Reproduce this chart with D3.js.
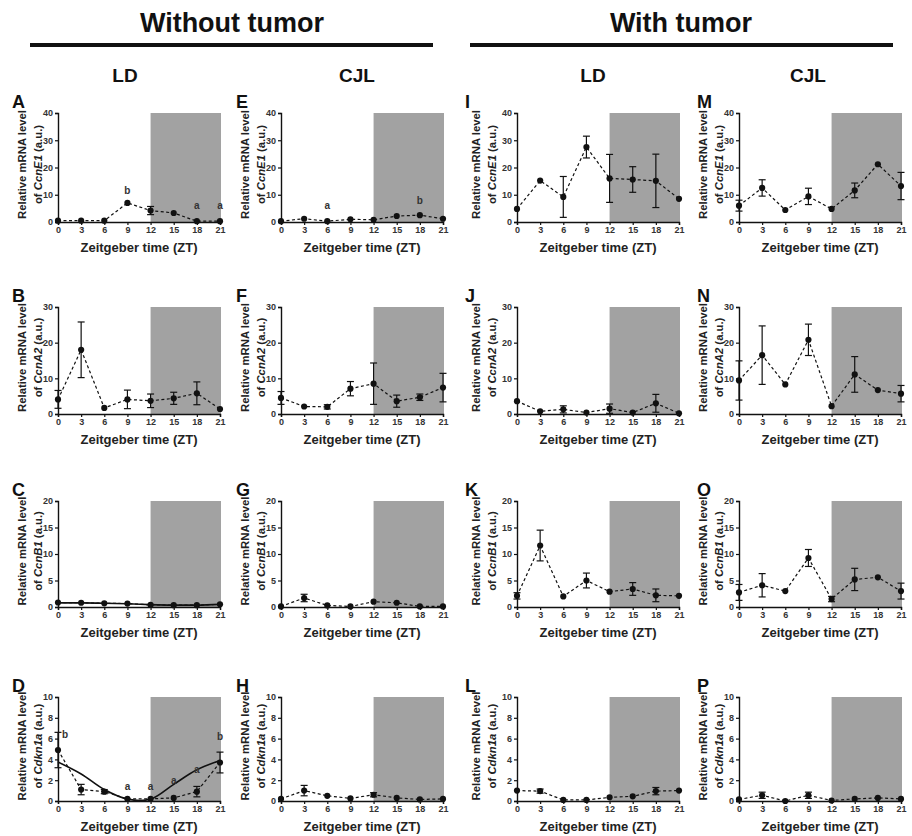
<!DOCTYPE html>
<html><head><meta charset="utf-8">
<script src="https://cdn.jsdelivr.net/npm/d3@7"></script>
<style>
html,body{margin:0;padding:0;background:#fff;}
text{font-family:"Liberation Sans",Arial,sans-serif;}
</style></head>
<body><svg id="c" width="912" height="836"></svg>
<script>
// ---------- data ----------
const ztTicks = [0,3,6,9,12,15,18,21];
const genes = ["CcnE1","CcnA2","CcnB1","Cdkn1a"];
const rowMax = [40,30,20,10];
const rowTicks = [[0,10,20,30,40],[0,10,20,30],[0,5,10,15,20],[0,2,4,6,8,10]];
const groupTitles = ["Without tumor","With tumor"];
const colTitles = ["LD","CJL","LD","CJL"];
const panelLetters = [["A","B","C","D"],["E","F","G","H"],["I","J","K","L"],["M","N","O","P"]];

const meanA = [0.5,0.5,0.5,7.0,4.2,3.3,0.3,0.3];   const errA = [0.2,0.2,0.2,0.4,1.5,0.5,0.1,0.1];
const meanB = [4.1,18,1.7,4.1,3.7,4.4,5.8,1.4];    const errB = [2.5,7.8,0.5,2.6,1.9,1.7,3.2,0.2];
const meanC = [0.85,0.8,0.7,0.65,0.4,0.35,0.35,0.5]; const errC = [0.1,0.1,0.1,0.1,0.1,0.1,0.1,0.1];
const meanD = [4.9,1.1,0.9,0.2,0.2,0.3,0.9,3.7];   const errD = [1.7,0.5,0.2,0.1,0.1,0.1,0.5,1.0];
const meanE = [0.3,1.2,0.3,1.0,0.8,2.2,2.5,1.2];   const errE = [0.1,0.3,0.1,0.2,0.2,0.4,0.3,0.2];
const meanF = [4.5,2.1,2.0,7.1,8.5,3.6,4.7,7.4];   const errF = [1.8,0.5,0.6,2.0,5.8,1.7,0.9,4.0];
const meanG = [0.1,1.7,0.3,0.1,1.0,0.8,0.1,0.1];   const errG = [0.05,0.7,0.1,0.05,0.2,0.3,0.05,0.05];
const meanH = [0.2,1.0,0.5,0.25,0.6,0.3,0.15,0.2]; const errH = [0.05,0.5,0.1,0.05,0.2,0.1,0.05,0.05];
const meanI = [4.8,15.2,9.2,27.5,16,15.6,15.1,8.5]; const errI = [0.5,0.5,7.5,4,8.8,4.7,9.8,0.5];
const meanJ = [3.6,0.75,1.3,0.4,1.5,0.4,3.0,0.2];  const errJ = [0.2,0.5,1.0,0.1,1.3,0.1,2.5,0.1];
const meanK = [2.1,11.6,2.0,5.0,2.9,3.4,2.2,2.1];  const errK = [0.6,2.9,0.1,1.4,0.1,1.2,1.2,0.1];
const meanL = [1.0,0.95,0.1,0.1,0.35,0.45,0.95,1.0]; const errL = [0.05,0.2,0.05,0.05,0.05,0.05,0.35,0.05];
const meanM = [6.0,12.5,4.4,9.4,4.8,11.6,21.2,13.2]; const errM = [2.0,3.0,0.3,3.0,0.3,2.7,0.3,5.0];
const meanN = [9.4,16.5,8.3,20.8,2.2,11.1,6.7,5.7]; const errN = [5.5,8.2,0.3,4.4,0.3,5.0,0.3,2.3];
const meanO = [2.75,4.1,3.0,9.25,1.5,5.2,5.6,3.0]; const errO = [1.5,2.2,0.1,1.6,0.5,2.1,0.1,1.5];
const meanP = [0.15,0.55,0.0,0.55,0.05,0.2,0.3,0.2]; const errP = [0.05,0.3,0.02,0.3,0.02,0.05,0.05,0.05];

// fitted curves
const fitC = [0.78,0.77,0.7,0.6,0.45,0.36,0.36,0.5];
const fitD = [3.75,2.6,1.1,0.18,0.18,1.6,3.0,3.9];

// significance letters
const lettersA_zt = [9,18,21];    const lettersA_val = [10.3,4.8,4.8]; const lettersA_txt = ["b","a","a"];
const lettersE_zt = [6,18];       const lettersE_val = [4.8,6.6];      const lettersE_txt = ["a","b"];
const lettersD_zt = [0.9,9,12,15,18,21]; const lettersD_val = [6.1,1.1,1.1,1.6,2.7,5.9]; const lettersD_txt = ["b","a","a","a","a","b"];

const means = [[meanA,meanB,meanC,meanD],[meanE,meanF,meanG,meanH],[meanI,meanJ,meanK,meanL],[meanM,meanN,meanO,meanP]];
const errs  = [[errA,errB,errC,errD],[errE,errF,errG,errH],[errI,errJ,errK,errL],[errM,errN,errO,errP]];
const fits = {"0,2":fitC,"0,3":fitD};
const letters = {
  "0,0":[lettersA_zt,lettersA_val,lettersA_txt],
  "1,0":[lettersE_zt,lettersE_val,lettersE_txt],
  "0,3":[lettersD_zt,lettersD_val,lettersD_txt]
};

// ---------- layout ----------
const colX = [58,281,517,739];
const rowY = [113,307,501,697];
const rowH = [109,107,106,104];
const pw = 162;

const svg = d3.select("#c");

// headers
const hdr = [{t:groupTitles[0],cx:232,x1:30,x2:433},{t:groupTitles[1],cx:681,x1:470,x2:893}];
hdr.forEach(h=>{
  svg.append("text").attr("x",h.cx).attr("y",32).attr("text-anchor","middle")
    .attr("font-size",27).attr("font-weight","bold").attr("fill","#111").text(h.t);
  svg.append("line").attr("x1",h.x1).attr("x2",h.x2).attr("y1",45).attr("y2",45)
    .attr("stroke","#111").attr("stroke-width",4);
});
colTitles.forEach((t,i)=>{
  svg.append("text").attr("x",[125,357,593,808][i]).attr("y",82).attr("text-anchor","middle")
    .attr("font-size",19).attr("font-weight","bold").attr("fill","#111").text(t);
});

const x = d3.scaleLinear().domain([0,21]).range([0,pw]);

for(let c=0;c<4;c++){
  for(let r=0;r<4;r++){
    const ph = rowH[r];
    const g = svg.append("g").attr("transform",`translate(${colX[c]},${rowY[r]})`);
    const y = d3.scaleLinear().domain([0,rowMax[r]]).range([ph,0]);
    const m = means[c][r], e = errs[c][r];

    // dark phase box
    g.append("rect").attr("x",x(12)).attr("y",y(rowMax[r])).attr("width",x(21)-x(12)+1)
      .attr("height",y(0)-y(rowMax[r])).attr("fill","#a2a2a2");

    // axes
    const ya = g.append("g").call(d3.axisLeft(y).tickValues(rowTicks[r]).tickSize(3).tickPadding(2));
    const xa = g.append("g").attr("transform",`translate(0,${ph})`)
      .call(d3.axisBottom(x).tickValues(ztTicks).tickSize(3).tickPadding(2));
    [ya,xa].forEach(a=>{
      a.select(".domain").attr("stroke","#111").attr("stroke-width",1.4);
      a.selectAll(".tick line").attr("stroke","#111").attr("stroke-width",1.2);
      a.selectAll(".tick text").attr("font-size",9).attr("font-weight","bold")
        .attr("fill","#333").attr("font-family","Liberation Sans, Arial, sans-serif");
    });

    // fit curve
    const fk = c+","+r;
    if(fits[fk]){
      g.append("path").datum(fits[fk].map((v,i)=>[ztTicks[i],v]))
        .attr("fill","none").attr("stroke","#111").attr("stroke-width",1.6)
        .attr("d",d3.line().x(d=>x(d[0])).y(d=>y(d[1])).curve(d3.curveCatmullRom.alpha(0.5)));
    }

    // dashed line
    const pts = m.map((v,i)=>({zt:ztTicks[i],v,e:e[i]}));
    g.append("path").datum(pts).attr("fill","none").attr("stroke","#111")
      .attr("stroke-width",1.2).attr("stroke-dasharray","3,2.5")
      .attr("d",d3.line().x(d=>x(d.zt)).y(d=>y(d.v)));

    // error bars
    const eb = g.append("g").attr("stroke","#111").attr("stroke-width",1.2);
    pts.forEach(d=>{
      const lo = Math.max(0,d.v-d.e), hi = d.v+d.e;
      if(y(lo)-y(hi) < 4) return;
      eb.append("line").attr("x1",x(d.zt)).attr("x2",x(d.zt)).attr("y1",y(lo)).attr("y2",y(hi));
      eb.append("line").attr("x1",x(d.zt)-3.5).attr("x2",x(d.zt)+3.5).attr("y1",y(hi)).attr("y2",y(hi));
      eb.append("line").attr("x1",x(d.zt)-3.5).attr("x2",x(d.zt)+3.5).attr("y1",y(lo)).attr("y2",y(lo));
    });

    // points
    g.selectAll("circle.pt").data(pts).enter().append("circle")
      .attr("cx",d=>x(d.zt)).attr("cy",d=>y(d.v)).attr("r",3.1).attr("fill","#111");

    // letters
    if(letters[fk]){
      const [lz,lv,lt] = letters[fk];
      lz.forEach((z,i)=>{
        g.append("text").attr("x",x(z)).attr("y",y(lv[i])).attr("text-anchor","middle")
          .attr("font-size",10).attr("font-weight","bold").attr("fill","#333").text(lt[i]);
      });
    }

    // x title
    g.append("text").attr("x",pw/2).attr("y",ph+30).attr("text-anchor","middle")
      .attr("font-size",13).attr("font-weight","bold").attr("fill","#222").text("Zeitgeber time (ZT)");

    // y title
    const cy = ph/2 - 3;
    const dx = c===2 ? -5 : 0;
    g.append("text").attr("transform",`translate(${-32+dx},${cy}) rotate(-90)`).attr("text-anchor","middle")
      .attr("font-size",11.3).attr("font-weight","bold").attr("fill","#222").text("Relative mRNA level");
    const t2 = g.append("text").attr("transform",`translate(${-16.5+dx},${cy}) rotate(-90)`).attr("text-anchor","middle")
      .attr("font-size",11.3).attr("font-weight","bold").attr("fill","#222");
    t2.append("tspan").text("of ");
    t2.append("tspan").attr("font-style","italic").text(genes[r]);
    t2.append("tspan").text(" (a.u.)");

    // panel letter
    svg.append("text").attr("x",[12,236,465,697][c]).attr("y",rowY[r]-5)
      .attr("font-size",18).attr("font-weight","bold").attr("fill","#111").text(panelLetters[c][r]);
  }
}
</script></body></html>
